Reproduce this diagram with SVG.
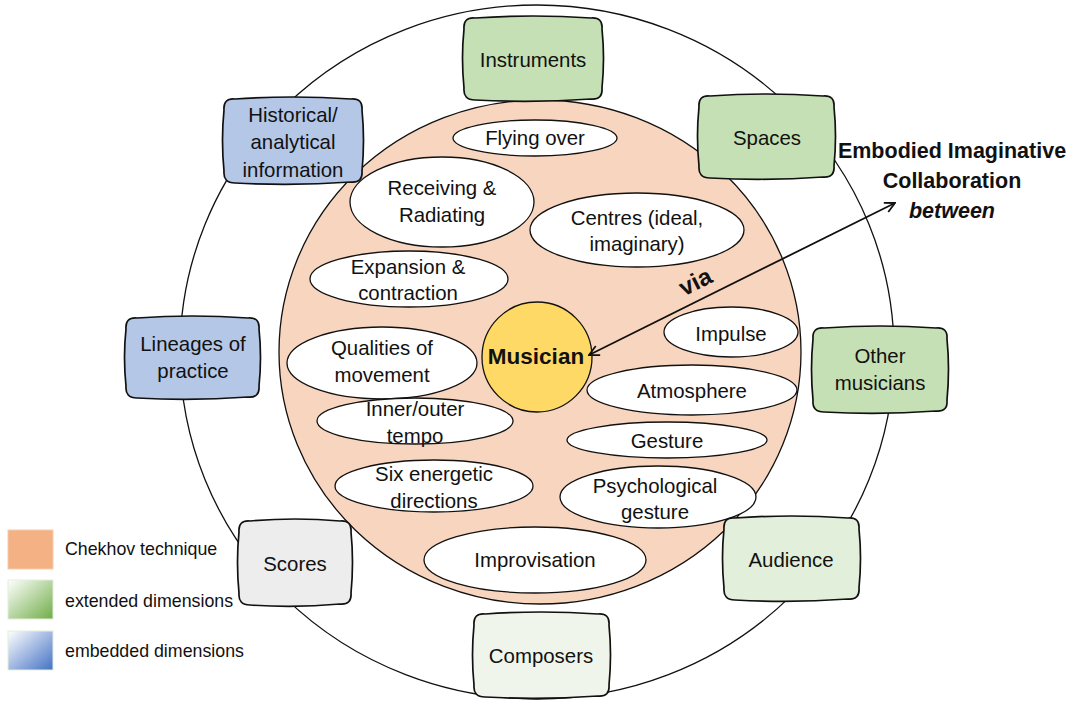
<svg xmlns="http://www.w3.org/2000/svg" width="1081" height="701" viewBox="0 0 1081 701">
<defs>
<style>
text{font-family:"Liberation Sans",Arial,sans-serif;fill:#111;text-anchor:middle}
.t{font-size:20.4px}
.lg{font-size:17.8px;text-anchor:start}
.b{font-weight:bold}
.box{stroke:#111;stroke-width:1.7;stroke-linejoin:round}
.el{fill:#fff;stroke:#111;stroke-width:1.3}
.green{fill:#C5E0B4}
.blue{fill:#B4C7E7}
</style>
<linearGradient id="gG" x1="0" y1="0" x2="1" y2="1"><stop offset="0" stop-color="#fff"/><stop offset="1" stop-color="#70AD47"/></linearGradient>
<linearGradient id="gB" x1="0" y1="0" x2="1" y2="1"><stop offset="0" stop-color="#fff"/><stop offset="1" stop-color="#4472C4"/></linearGradient>
<marker id="ah" viewBox="0 0 12 12" refX="11" refY="6" markerWidth="12" markerHeight="12" markerUnits="userSpaceOnUse" orient="auto-start-reverse"><path d="M1,1 L11,6 L1,11" fill="none" stroke="#111" stroke-width="1.8"/></marker>
</defs>
<rect width="1081" height="701" fill="#fff"/>
<g id="outer"><ellipse cx="537" cy="352" rx="357" ry="347" fill="none" stroke="#111" stroke-width="1.3"/></g>
<g id="chekhov"><ellipse cx="540" cy="352" rx="261" ry="252" fill="#F8D5BE" stroke="#111" stroke-width="1.3"/></g>

<g id="flying"><ellipse class="el" cx="535" cy="138" rx="82" ry="18"/><text class="t" x="535" y="145">Flying over</text></g>
<g id="receiving"><ellipse class="el" cx="442" cy="202" rx="92" ry="45"/><text class="t" x="442" y="195">Receiving &amp;</text><text class="t" x="442" y="222">Radiating</text></g>
<g id="centres"><ellipse class="el" cx="637" cy="230" rx="107" ry="37"/><text class="t" x="637" y="225">Centres (ideal,</text><text class="t" x="637" y="251">imaginary)</text></g>
<g id="expansion"><ellipse class="el" cx="409" cy="279" rx="99" ry="28"/><text class="t" x="408" y="274">Expansion &amp;</text><text class="t" x="408" y="300">contraction</text></g>
<g id="qualities"><ellipse class="el" cx="382" cy="363" rx="95" ry="36"/><text class="t" x="382" y="355">Qualities of</text><text class="t" x="382" y="382">movement</text></g>
<g id="tempo"><ellipse class="el" cx="415" cy="421" rx="98" ry="23"/><text class="t" x="415" y="416">Inner/outer</text><text class="t" x="415" y="443">tempo</text></g>
<g id="six"><ellipse class="el" cx="434" cy="486" rx="99" ry="26"/><text class="t" x="434" y="481">Six energetic</text><text class="t" x="434" y="508">directions</text></g>
<g id="impulse"><ellipse class="el" cx="731" cy="332" rx="67" ry="25"/><text class="t" x="731" y="341">Impulse</text></g>
<g id="atmosphere"><ellipse class="el" cx="692" cy="390" rx="105" ry="25"/><text class="t" x="692" y="398">Atmosphere</text></g>
<g id="gesture"><ellipse class="el" cx="667" cy="440" rx="100" ry="18"/><text class="t" x="667" y="448">Gesture</text></g>
<g id="psych"><ellipse class="el" cx="658" cy="497" rx="98" ry="31"/><text class="t" x="655" y="493">Psychological</text><text class="t" x="655" y="519">gesture</text></g>
<g id="improv"><ellipse class="el" cx="535" cy="560" rx="111" ry="33"/><text class="t" x="535" y="567">Improvisation</text></g>

<g id="musician"><circle cx="537" cy="357" r="55" fill="#FFD966" stroke="#111" stroke-width="1.3"/><text class="b" x="536" y="364" font-size="22.5">Musician</text></g>

<g id="instruments"><path class="box green" d="M475,18 Q533,14 591,18 Q603,17 602,29 Q605,58 602,88 Q603,100 591,99 Q533,103 475,100 Q463,100 464,88 Q461,58 464,29 Q463,17 475,18Z"/><text class="t" x="533" y="67">Instruments</text></g>
<g id="historical"><path class="box blue" d="M235,99 Q293,95 351,99 Q363,98 362,110 Q365,140 362,171 Q363,183 351,182 Q293,186 235,183 Q223,183 224,171 Q221,140 224,110 Q223,98 235,99Z"/><text class="t" x="293" y="122">Historical/</text><text class="t" x="293" y="149">analytical</text><text class="t" x="293" y="177">information</text></g>
<g id="spaces"><path class="box green" d="M710,96 Q766,92 823,96 Q835,95 834,107 Q837,136 834,166 Q835,178 823,177 Q766,181 710,178 Q698,178 699,166 Q696,136 699,107 Q698,95 710,96Z"/><text class="t" x="767" y="145">Spaces</text></g>
<g id="lineages"><path class="box blue" d="M137,318 Q192,314 248,318 Q260,317 259,329 Q262,357 259,386 Q260,398 248,397 Q192,401 137,398 Q125,398 126,386 Q123,357 126,329 Q125,317 137,318Z"/><text class="t" x="193" y="351">Lineages of</text><text class="t" x="193" y="378">practice</text></g>
<g id="others"><path class="box green" d="M824,328 Q880,324 936,328 Q948,327 947,339 Q950,369 947,400 Q948,412 936,411 Q880,415 824,412 Q812,412 813,400 Q810,369 813,339 Q812,327 824,328Z"/><text class="t" x="880" y="363">Other</text><text class="t" x="880" y="390">musicians</text></g>
<g id="scores"><path class="box" fill="#EDEDED" d="M250,521 Q295,517 340,521 Q352,520 351,532 Q354,562 351,593 Q352,605 340,604 Q295,608 250,605 Q238,605 239,593 Q236,562 239,532 Q238,520 250,521Z"/><text class="t" x="295" y="571">Scores</text></g>
<g id="audience"><path class="box" fill="#E2EFDA" d="M735,518 Q791,514 848,518 Q860,517 859,529 Q862,558 859,588 Q860,600 848,599 Q791,603 735,600 Q723,600 724,588 Q721,558 724,529 Q723,517 735,518Z"/><text class="t" x="791" y="567">Audience</text></g>
<g id="composers"><path class="box" fill="#EFF5EA" d="M485,614 Q541,610 598,614 Q610,613 609,625 Q612,655 609,685 Q610,697 598,696 Q541,700 485,697 Q473,697 474,685 Q471,655 474,625 Q473,613 485,614Z"/><text class="t" x="541" y="663">Composers</text></g>

<g id="connectors"><line x1="589" y1="355" x2="895" y2="203" stroke="#111" stroke-width="1.8" marker-start="url(#ah)" marker-end="url(#ah)"/></g>
<text class="b" font-size="24" transform="translate(699,289) rotate(-26.5)">via</text>

<g id="title"><text class="b" font-size="21.5" x="952" y="158">Embodied Imaginative</text><text class="b" font-size="21.5" x="952" y="188">Collaboration</text><text class="b" font-size="21.5" font-style="italic" x="952" y="218">between</text></g>

<g id="legend">
<rect x="8" y="530" width="45" height="39" fill="#F4B183" stroke="#F8CBAD"/>
<text class="lg" x="65" y="555">Chekhov technique</text>
<rect x="8" y="580" width="45" height="39" fill="url(#gG)" stroke="#E2EFDA"/>
<text class="lg" x="65" y="607">extended dimensions</text>
<rect x="8" y="631" width="45" height="39" fill="url(#gB)" stroke="#E2EFDA"/>
<text class="lg" x="65" y="657">embedded dimensions</text>
</g>
</svg>
